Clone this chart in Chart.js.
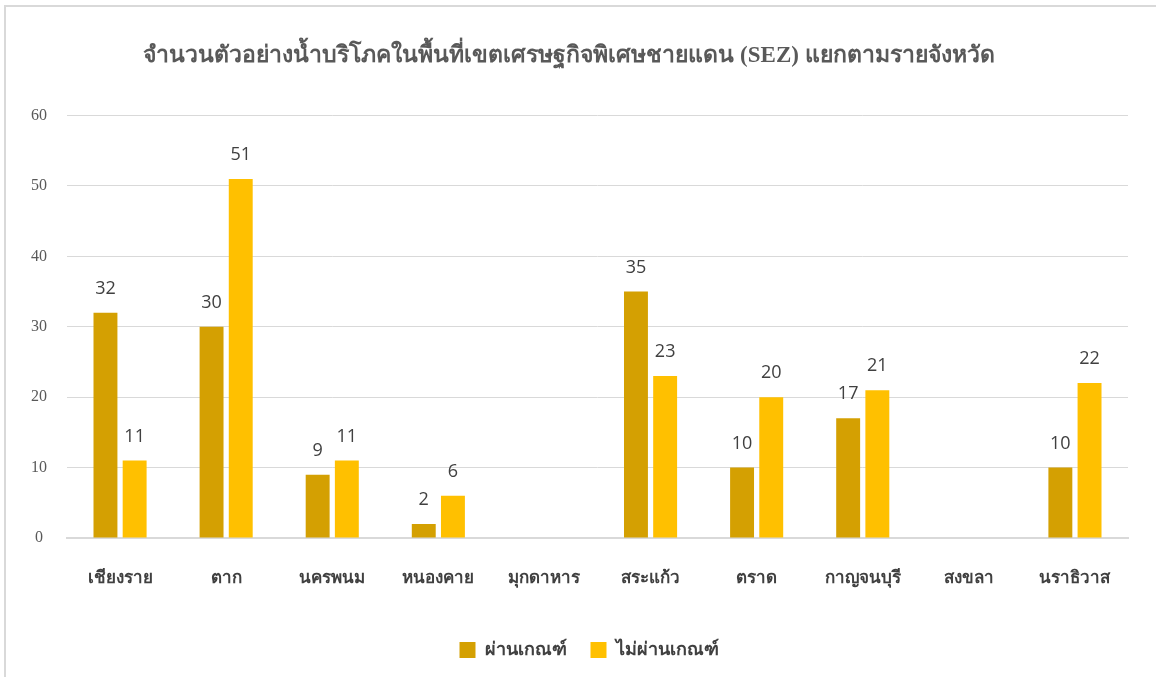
<!DOCTYPE html>
<html>
<head>
<meta charset="utf-8">
<script src="https://cdn.jsdelivr.net/npm/chart.js@4"></script>
<style>
  body { margin: 0; background: #fff; }
  #frame { position: absolute; left: 4px; top: 5px; width: 1170px; height: 690px; border: 2px solid #d9d9d9; }
  #wrap { position: absolute; left: 0; top: 0; width: 1156px; height: 677px; }
</style>
</head>
<body>
<div id="frame"></div>
<div id="wrap"><canvas id="sezChart" width="1156" height="677"></canvas></div>
<script>
  // จังหวัด (หมวดหมู่)
  const provinces = ['เชียงราย', 'ตาก', 'นครพนม', 'หนองคาย', 'มุกดาหาร', 'สระแก้ว', 'ตราด', 'กาญจนบุรี', 'สงขลา', 'นราธิวาส'];
  // จำนวนตัวอย่างที่ผ่านเกณฑ์
  const passed = [32, 30, 9, 2, null, 35, 10, 17, null, 10];
  // จำนวนตัวอย่างที่ไม่ผ่านเกณฑ์
  const failed = [11, 51, 11, 6, null, 23, 20, 21, null, 22];
  const yTicks = [0, 10, 20, 30, 40, 50, 60];

  // ป้ายตัวเลขเหนือแท่ง
  const barLabels = {
    id: 'barLabels',
    afterLayout(chart) {
      // เลื่อนคำอธิบายให้อยู่กลางหน้า
      chart.legend.left += 20;
      chart.legend.right += 20;
    },
    afterDatasetsDraw(chart) {
      const ctx = chart.ctx;
      ctx.save();
      ctx.font = '18px "Open Sans", "Liberation Sans", sans-serif';
      ctx.fillStyle = '#404040';
      ctx.textAlign = 'center';
      ctx.textBaseline = 'bottom';
      chart.data.datasets.forEach((ds, i) => {
        chart.getDatasetMeta(i).data.forEach((bar, j) => {
          if (ds.data[j] == null) return;
          ctx.fillText(ds.data[j], bar.x, bar.y - 15);
        });
      });
      ctx.restore();
    }
  };

  let ctx = document.getElementById('sezChart').getContext('2d');
  let sezChart = new Chart(ctx, {
    type: 'bar',
    data: {
      labels: provinces,
      datasets: [{
        label: 'ผ่านเกณฑ์',
        data: passed,
        backgroundColor: '#D4A002',
        categoryPercentage: 0.55,
        barPercentage: 0.82
      }, {
        label: 'ไม่ผ่านเกณฑ์',
        data: failed,
        backgroundColor: '#FFC000',
        categoryPercentage: 0.55,
        barPercentage: 0.82
      }]
    },
    options: {
      responsive: false,
      animation: false,
      layout: { padding: { left: 10, right: 28, top: 0, bottom: 8 } },
      plugins: {
        title: {
          display: true,
          text: 'จำนวนตัวอย่างน้ำบริโภคในพื้นที่เขตเศรษฐกิจพิเศษชายแดน (SEZ) แยกตามรายจังหวัด',
          color: '#595959',
          font: { family: '"Liberation Serif", "Noto Sans", serif', size: 23, weight: 'bold' },
          padding: { top: 42, bottom: 46 }
        },
        legend: {
          position: 'bottom',
          labels: {
            color: '#404040',
            font: { family: '"Liberation Serif", "Noto Sans", serif', size: 18, weight: 'bold' },
            boxWidth: 16,
            boxHeight: 16,
            padding: 24
          }
        },
        tooltip: { enabled: false }
      },
      scales: {
        x: {
          grid: { display: false, drawTicks: false },
          border: { display: true, color: '#d9d9d9', width: 2 },
          ticks: {
            color: '#404040',
            font: { family: '"Liberation Serif", "Noto Sans", serif', size: 17, weight: 'bold' },
            padding: 30,
            maxRotation: 0
          },
          afterFit(scale) { scale.height = 79; }
        },
        y: {
          min: 0,
          max: 60,
          afterBuildTicks(scale) { scale.ticks = yTicks.map(v => ({ value: v })); },
          grid: { color: '#d9d9d9', lineWidth: 1, drawTicks: false },
          border: { display: false },
          ticks: {
            color: '#595959',
            font: { family: '"Liberation Serif", serif', size: 16 },
            crossAlign: 'center',
            padding: 20
          },
          afterFit(scale) { scale.width = 57; }
        }
      }
    },
    plugins: [barLabels]
  });
</script>
</body>
</html>
